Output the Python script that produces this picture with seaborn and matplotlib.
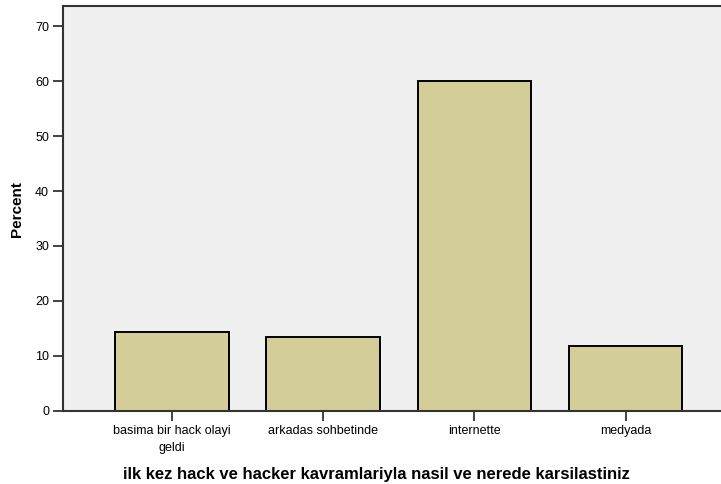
import matplotlib.pyplot as plt
import seaborn as sns


CATEGORIES = ["basima bir hack olayi\ngeldi", "arkadas sohbetinde", "internette", "medyada"]
PERCENT = [14.4, 13.5, 60.0, 11.8]
Y_TICKS = [0, 10, 20, 30, 40, 50, 60, 70]

sns.set_style("white")
plt.rcParams["font.family"] = ["Liberation Sans", "DejaVu Sans"]
plt.rcParams["text.color"] = "black"
plt.rcParams["axes.labelcolor"] = "black"
plt.rcParams["xtick.color"] = "black"
plt.rcParams["ytick.color"] = "black"

fig = plt.figure(figsize=(7.21, 4.84), dpi=100)
ax = fig.add_axes([0.0874, 0.1514, 0.9126, 0.8352])
ax.set_facecolor("#F0F0F0")

sns.barplot(x=CATEGORIES, y=PERCENT, width=0.75, color="#D3CE98", saturation=1,
            edgecolor="black", linewidth=1.4, ax=ax)

ax.set_xlim(-0.72, 3.63)
ax.set_ylim(0, 73.6)
ax.set_yticks(Y_TICKS)
ax.tick_params(axis="both", direction="out", length=7, width=1.2, color="#222222",
               labelsize=9, pad=3, left=True, bottom=True)
for lbl in ax.get_xticklabels():
    lbl.set_linespacing(1.55)
for side in ["left", "bottom", "top"]:
    ax.spines[side].set_color("#333333")
    ax.spines[side].set_linewidth(1.5)
ax.spines["right"].set_visible(False)

ax.set_ylabel("Percent", fontsize=11, fontweight="bold", labelpad=8)
ax.set_xlabel("ilk kez hack ve hacker kavramlariyla nasil ve nerede karsilastiniz",
              fontsize=12, fontweight="bold", labelpad=8)
ax.xaxis.set_label_coords(0.477, -0.14)

fig.savefig("out.png", dpi=100)
